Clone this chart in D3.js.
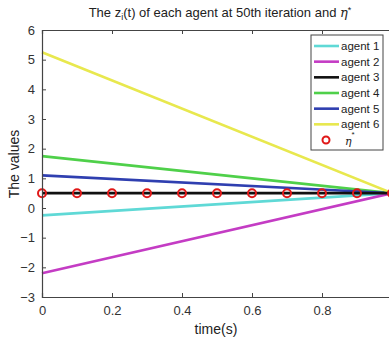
<!DOCTYPE html>
<html><head><meta charset="utf-8">
<script src="https://cdn.jsdelivr.net/npm/d3@7"></script>
<style>body{margin:0;background:#fff;} svg{display:block;font-family:"Liberation Sans",Arial,sans-serif;}</style>
</head><body>
<script>
const agentNames = ["agent 1","agent 2","agent 3","agent 4","agent 5","agent 6"];
const agentColors = ["#5fd9d6","#c43cc4","#111111","#4fd04a","#2f3fb0","#e8e84e"];
const startValues = [-0.25, -2.2, 0.5, 1.75, 1.1, 5.25];
const endValues = [0.5, 0.5, 0.5, 0.5, 0.5, 0.5];
const timeStart = 0, timeEnd = 1;
const etaTimes = [0,0.1,0.2,0.3,0.4,0.5,0.6,0.7,0.8,0.9,1.0];
const etaValues = [0.5,0.5,0.5,0.5,0.5,0.5,0.5,0.5,0.5,0.5,0.5];
const xTicks = [0,0.2,0.4,0.6,0.8];
const yTicks = [-3,-2,-1,0,1,2,3,4,5,6];

const W=389,H=339;
const svg=d3.select("body").append("svg").attr("width",W).attr("height",H);
const x=d3.scaleLinear().domain([0,1]).range([42,392]);
const y=d3.scaleLinear().domain([-3,6]).range([297,30]);

// lines
const line=d3.line().x(d=>x(d[0])).y(d=>y(d[1]));
const order=[0,1,3,4,5,2];
order.forEach(i=>{
  svg.append("path").datum([[timeStart,startValues[i]],[timeEnd,endValues[i]]])
    .attr("d",line).attr("fill","none").attr("stroke",agentColors[i]).attr("stroke-width",2.6);
});
// eta markers
svg.selectAll("circle.eta").data(etaTimes.map((t,i)=>[t,etaValues[i]])).enter()
  .append("circle").attr("class","eta").attr("cx",d=>x(d[0])).attr("cy",d=>y(d[1])).attr("r",4)
  .attr("fill","none").attr("stroke","#e01818").attr("stroke-width",2);

// axes
const tickCol="#333";
const gx=svg.append("g").attr("transform","translate(0,297)")
  .call(d3.axisBottom(x).tickValues(xTicks).tickSize(-4).tickPadding(9).tickFormat(d=>d===0?"0":d3.format(".1f")(d)));
const gxt=svg.append("g").attr("transform","translate(0,30)")
  .call(d3.axisTop(x).tickValues(xTicks).tickSize(-4).tickFormat(""));
const gy=svg.append("g").attr("transform","translate(42,0)")
  .call(d3.axisLeft(y).tickValues(yTicks).tickSize(-4).tickPadding(7));
[gx,gxt,gy].forEach(g=>{
  g.select(".domain").attr("stroke","#444").attr("stroke-width",1.2);
  g.selectAll(".tick line").attr("stroke","#444");
  g.selectAll("text").attr("fill",tickCol).style("font-size","13px").style("font-family","Liberation Sans,Arial,sans-serif");
});

// labels
const title=svg.append("text").attr("x",220).attr("y",17).attr("text-anchor","middle")
  .style("font-size","13px").attr("fill","#222");
title.append("tspan").text("The z");
title.append("tspan").text("i").attr("dy",3).style("font-size","9px");
title.append("tspan").text("(t) of each agent at 50th iteration and ").attr("dy",-3);
title.append("tspan").text("η").style("font-style","italic").style("font-family","DejaVu Serif, serif");
title.append("tspan").text("*").attr("dy",-4).style("font-size","9px");

svg.append("text").attr("transform","translate(19,164) rotate(-90)").attr("text-anchor","middle")
  .style("font-size","14px").attr("fill","#222").text("The values");
svg.append("text").attr("x",216).attr("y",334).attr("text-anchor","middle")
  .style("font-size","14px").attr("fill","#222").text("time(s)");

// legend
const lg=svg.append("g");
lg.append("rect").attr("x",311).attr("y",35).attr("width",72).attr("height",115)
  .attr("fill","#fff").attr("stroke","#444").attr("stroke-width",1);
const rowY=d3.scaleLinear().domain([0,6]).range([46,140]);
agentNames.forEach((n,i)=>{
  lg.append("line").attr("x1",314).attr("x2",339).attr("y1",rowY(i)).attr("y2",rowY(i))
    .attr("stroke",agentColors[i]).attr("stroke-width",2.6);
  lg.append("text").attr("x",341).attr("y",rowY(i)+4).style("font-size","11.5px").attr("fill","#222").text(n);
});
lg.append("circle").attr("cx",326).attr("cy",rowY(6)).attr("r",3.5).attr("fill","none").attr("stroke","#e01818").attr("stroke-width",2);
const et=lg.append("text").attr("x",345).attr("y",rowY(6)+5).style("font-size","11px").attr("fill","#222");
et.append("tspan").text("η").style("font-style","italic").style("font-family","DejaVu Serif, serif");
et.append("tspan").text("*").attr("dy",-8).style("font-size","8px");
</script>
</body></html>
